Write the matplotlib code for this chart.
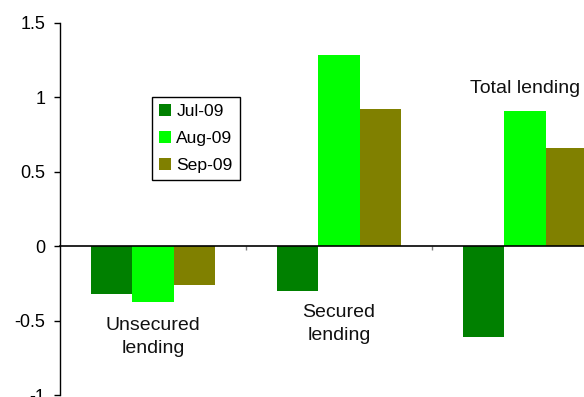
import matplotlib
matplotlib.use("Agg")
import matplotlib.pyplot as plt
import numpy as np

plt.rcParams['font.family'] = ['Liberation Sans', 'DejaVu Sans']
plt.rcParams['axes.unicode_minus'] = False

categories = ["Unsecured\nlending", "Secured\nlending", "Total lending"]
series_names = ["Jul-09", "Aug-09", "Sep-09"]
jul = [-0.32, -0.30, -0.61]
aug = [-0.375, 1.286, 0.909]
sep = [-0.26, 0.922, 0.66]
colors = ["#008000", "#00FF00", "#808000"]
yticks = [-1, -0.5, 0, 0.5, 1, 1.5]
ytick_labels = ["-1", "-0.5", "0", "0.5", "1", "1.5"]

W, H = 584, 397
fig = plt.figure(figsize=(W / 100, H / 100), dpi=100)
ax = fig.add_axes([60 / W, 1 - 395 / H, 558 / W, 372 / H])

x = np.arange(len(categories))
bw = 1 / 4.5
for i, (vals, name, c) in enumerate(zip([jul, aug, sep], series_names, colors)):
    ax.bar(x + (i - 1) * bw, vals, width=bw, color=c, label=name, linewidth=0)

ax.set_xlim(-0.5, 2.5)
ax.set_ylim(-1, 1.5)
ax.set_yticks(yticks)
ax.set_yticklabels(ytick_labels)
ax.tick_params(axis='y', direction='out', length=4.5, width=1, pad=6,
               labelsize=13, colors='black')
ax.spines['top'].set_visible(False)
ax.spines['right'].set_visible(False)
ax.spines['bottom'].set_position(('data', 0))
ax.spines['bottom'].set_linewidth(1.2)
ax.spines['left'].set_linewidth(1)
ax.set_xticks([0.5, 1.5, 2.5])
ax.set_xticklabels([])
ax.tick_params(axis='x', direction='out', length=3, width=1, color='#808080')

# category labels
label_pos = [(0, -0.61), (1, -0.525), (2, 1.057)]
for (cx, cy), lab in zip(label_pos, categories):
    ax.text(cx, cy, lab, ha='center', va='center', fontsize=14,
            linespacing=1.45, color='#111111')

leg = fig.legend(loc='upper left', bbox_to_anchor=(151.7 / W, 1 - 96.7 / H),
                 borderaxespad=0, frameon=True, fancybox=False,
                 edgecolor='black', framealpha=1, fontsize=12.6,
                 handlelength=0.68, handleheight=0.68, handletextpad=0.32,
                 labelspacing=0.68, borderpad=0.4)
leg.get_frame().set_linewidth(1)

fig.savefig("out.png", dpi=100)
